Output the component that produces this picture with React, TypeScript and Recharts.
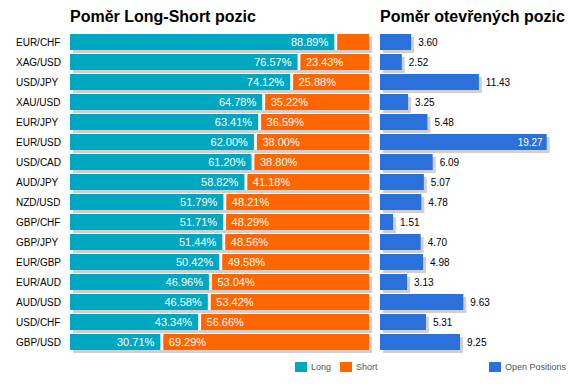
import { BarChart, Bar, XAxis, YAxis, LabelList, Legend } from "recharts";

const PAIRS = [
  "EUR/CHF", "XAG/USD", "USD/JPY", "XAU/USD", "EUR/JPY", "EUR/USD", "USD/CAD", "AUD/JPY",
  "NZD/USD", "GBP/CHF", "GBP/JPY", "EUR/GBP", "EUR/AUD", "AUD/USD", "USD/CHF", "GBP/USD",
];
const LONG_PCT = [88.89, 76.57, 74.12, 64.78, 63.41, 62.0, 61.2, 58.82, 51.79, 51.71, 51.44, 50.42, 46.96, 46.58, 43.34, 30.71];
const SHORT_PCT = [11.11, 23.43, 25.88, 35.22, 36.59, 38.0, 38.8, 41.18, 48.21, 48.29, 48.56, 49.58, 53.04, 53.42, 56.66, 69.29];
const OPEN_POS = [3.6, 2.52, 11.43, 3.25, 5.48, 19.27, 6.09, 5.07, 4.78, 1.51, 4.7, 4.98, 3.13, 9.63, 5.31, 9.25];

const LONG = "#00a7c1";
const SHORT = "#ff6600";
const OPEN = "#2a71db";
const SHADOW = "#d0d0d0";

const data = PAIRS.map((name, i) => ({
  name,
  long: LONG_PCT[i],
  short: SHORT_PCT[i],
  open: OPEN_POS[i],
}));

const FONT = "'Liberation Sans', Arial, sans-serif";

// long segment also draws the shadow for the whole 100% row and the white gap
// eslint-disable-next-line @typescript-eslint/no-explicit-any
const LongShape = (p: any) => {
  const { x, y, width, height, payload } = p;
  const full = (width * 100) / payload.long;
  return (
    <g>
      <rect x={x + 3} y={y + 3} width={full} height={height} fill={SHADOW} />
      <rect x={x + width - 1.5} y={y} width={3} height={height} fill="#fff" />
      <rect x={x} y={y} width={width - 1.5} height={height} fill={LONG} />
    </g>
  );
};

// eslint-disable-next-line @typescript-eslint/no-explicit-any
const ShortShape = (p: any) => {
  const { x, y, width, height } = p;
  return <rect x={x + 1.5} y={y} width={width - 1.5} height={height} fill={SHORT} />;
};

// eslint-disable-next-line @typescript-eslint/no-explicit-any
const OpenShape = (p: any) => {
  const { x, y, width, height } = p;
  return (
    <g>
      <rect x={x + 3} y={y + 3} width={width} height={height} fill={SHADOW} />
      <rect x={x} y={y} width={width} height={height} fill={OPEN} />
    </g>
  );
};

// eslint-disable-next-line @typescript-eslint/no-explicit-any
const LegendContent = ({ payload }: any) => (
  <div style={{ display: "flex", gap: 9, fontFamily: "'Liberation Sans Narrow', 'Liberation Sans', Arial", fontSize: 9, color: "#555" }}>
    {/* eslint-disable-next-line @typescript-eslint/no-explicit-any */}
    {(payload ?? []).map((e: any) => (
      <div key={e.value} style={{ display: "flex", alignItems: "center", gap: 4, height: 10, lineHeight: "10px" }}>
        <span style={{ display: "inline-block", width: 12, height: 10, background: e.color }} />
        <span>{e.value}</span>
      </div>
    ))}
  </div>
);

const titleStyle = {
  position: "absolute" as const,
  top: 8,
  fontSize: 16,
  lineHeight: "18px",
  fontWeight: 700,
  color: "#000",
  whiteSpace: "nowrap" as const,
};

export default function App() {
  return (
    <div style={{ position: "absolute", left: 0, top: 0, width: 576, height: 385, background: "#fff", fontFamily: FONT, overflow: "hidden" }}>
      <div style={{ ...titleStyle, left: 70 }}>Poměr Long-Short pozic</div>
      <div style={{ ...titleStyle, left: 380 }}>Poměr otevřených pozic</div>

      {/* Long / Short ratio */}
      <div style={{ position: "absolute", left: 0, top: 0 }}>
        <BarChart
          width={380}
          height={385}
          data={data}
          layout="vertical"
          margin={{ top: 32, right: 11, bottom: 33, left: 10 }}
          barSize={16}
        >
          <XAxis type="number" domain={[0, 100]} hide />
          <YAxis
            type="category"
            dataKey="name"
            width={60}
            axisLine={false}
            tickLine={false}
            interval={0}
            // eslint-disable-next-line @typescript-eslint/no-explicit-any
            tick={(t: any) => (
              <text x={16} y={t.y} dy="0.35em" fontSize={10} fill="#000">
                {t.payload.value}
              </text>
            )}
          />
          <Legend
            layout="horizontal"
            verticalAlign="middle"
            align="center"
            content={<LegendContent />}
            wrapperStyle={{ left: 295, top: 362, width: "auto", height: 10 }}
          />
          <Bar dataKey="long" name="Long" stackId="ls" fill={LONG} shape={<LongShape />} isAnimationActive={false}>
            <LabelList
              dataKey="long"
              // eslint-disable-next-line @typescript-eslint/no-explicit-any
              content={(l: any) => (
                <text x={l.x + l.width - 7.5} y={l.y + l.height / 2} dy="0.35em" textAnchor="end" fontSize={11} fill="#fff">
                  {Number(l.value).toFixed(2)}%
                </text>
              )}
            />
          </Bar>
          <Bar dataKey="short" name="Short" stackId="ls" fill={SHORT} shape={<ShortShape />} isAnimationActive={false}>
            <LabelList
              dataKey="short"
              // eslint-disable-next-line @typescript-eslint/no-explicit-any
              content={(l: any) =>
                Number(l.value) < 15 ? null : (
                  <text x={l.x + 7} y={l.y + l.height / 2} dy="0.35em" textAnchor="start" fontSize={11} fill="#fff">
                    {Number(l.value).toFixed(2)}%
                  </text>
                )
              }
            />
          </Bar>
        </BarChart>
      </div>

      {/* Open positions ratio */}
      <div style={{ position: "absolute", left: 370, top: 0 }}>
        <BarChart
          width={206}
          height={385}
          data={data}
          layout="vertical"
          margin={{ top: 32, right: 23, bottom: 33, left: 10 }}
          barSize={16}
        >
          <XAxis type="number" domain={[0, 20]} hide />
          <YAxis type="category" dataKey="name" hide />
          <Legend
            layout="horizontal"
            verticalAlign="middle"
            align="center"
            content={<LegendContent />}
            wrapperStyle={{ left: 119, top: 362, width: "auto", height: 10 }}
          />
          <Bar dataKey="open" name="Open Positions" fill={OPEN} shape={<OpenShape />} isAnimationActive={false}>
            <LabelList
              dataKey="open"
              // eslint-disable-next-line @typescript-eslint/no-explicit-any
              content={(l: any) => {
                const inside = Number(l.value) > 15;
                return (
                  <text
                    x={inside ? l.x + l.width - 4 : l.x + l.width + 7}
                    y={l.y + l.height / 2}
                    dy="0.35em"
                    textAnchor={inside ? "end" : "start"}
                    fontSize={10}
                    fill={inside ? "#fff" : "#000"}
                  >
                    {Number(l.value).toFixed(2)}
                  </text>
                );
              }}
            />
          </Bar>
        </BarChart>
      </div>
    </div>
  );
}
